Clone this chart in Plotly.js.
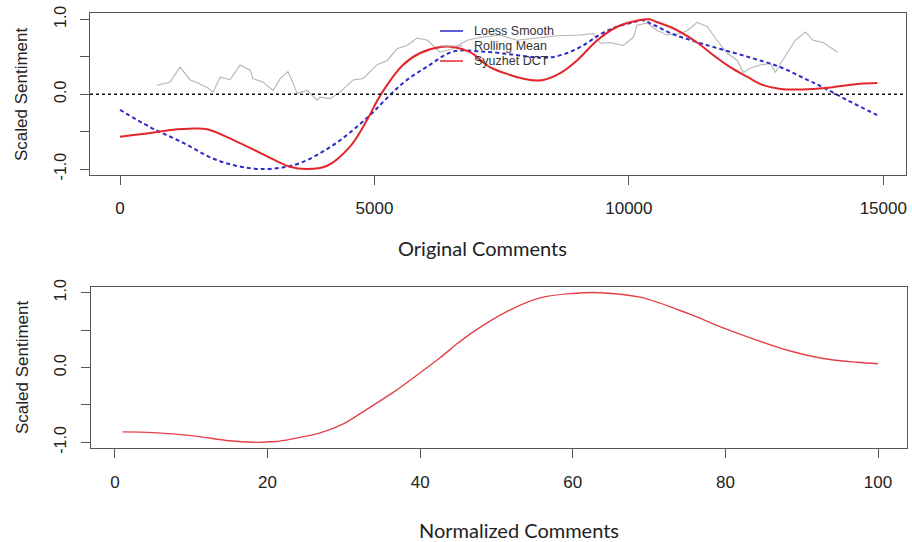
<!DOCTYPE html>
<html>
<head>
<meta charset="utf-8">
<script src="https://cdn.plot.ly/plotly-3.0.1.min.js"></script>
<style>html,body{margin:0;padding:0;background:#fff;}#chart{width:912px;height:542px;}</style>
</head>
<body>
<div id="chart"></div>
<script>
// ---- Top panel: Original Comments ----
const loessX = [0, 590, 1240, 1900, 2560, 3080, 3540, 4190, 4850, 5250, 5600, 6040, 6550, 7100, 7700, 8200, 8450, 8790, 9100, 9440, 9770, 10090, 10250, 10500, 10870, 11270, 11660, 12330, 12980, 13510, 13820, 14290, 14880];
const loessY = [-0.21, -0.44, -0.65, -0.88, -0.99, -0.99, -0.92, -0.68, -0.32, -0.05, 0.17, 0.37, 0.57, 0.57, 0.53, 0.49, 0.49, 0.55, 0.65, 0.80, 0.90, 0.96, 0.99, 0.92, 0.80, 0.71, 0.63, 0.50, 0.36, 0.19, 0.09, -0.08, -0.28];

const meanX = [720, 980, 1180, 1280, 1380, 1530, 1710, 1830, 1970, 2160, 2360, 2560, 2610, 2810, 3010, 3150, 3300, 3400, 3480, 3680, 3870, 3930, 4130, 4330, 4580, 4780, 5050, 5250, 5450, 5640, 5840, 6040, 6290, 6550, 6820, 7100, 7470, 7800, 8200, 8600, 9040, 9300, 9440, 9630, 9890, 10090, 10160, 10360, 10560, 10750, 11010, 11150, 11340, 11540, 11730, 11930, 12130, 12250, 12390, 12580, 12780, 12880, 12980, 13110, 13270, 13470, 13620, 13820, 14020, 14100];
const meanY = [0.12, 0.16, 0.36, 0.28, 0.19, 0.15, 0.09, 0.03, 0.23, 0.19, 0.39, 0.32, 0.21, 0.16, 0.05, 0.21, 0.30, 0.15, 0.01, 0.05, -0.08, -0.04, -0.06, 0.03, 0.19, 0.21, 0.39, 0.45, 0.61, 0.65, 0.75, 0.72, 0.56, 0.61, 0.72, 0.76, 0.79, 0.72, 0.75, 0.78, 0.79, 0.81, 0.68, 0.69, 0.65, 0.76, 0.92, 0.95, 0.85, 0.79, 0.81, 0.85, 0.96, 0.90, 0.72, 0.55, 0.45, 0.29, 0.35, 0.39, 0.41, 0.29, 0.41, 0.55, 0.72, 0.83, 0.72, 0.69, 0.59, 0.56];

const dctX = [0, 590, 1000, 1450, 1710, 2220, 2890, 3340, 3670, 4060, 4520, 4850, 5130, 5560, 5900, 6300, 6550, 6880, 7270, 7650, 8060, 8320, 8650, 8980, 9380, 9770, 10220, 10400, 10560, 10870, 11340, 11660, 11990, 12330, 12640, 12980, 13620, 13960, 14550, 14880];
const dctY = [-0.57, -0.52, -0.48, -0.46, -0.47, -0.61, -0.83, -0.97, -1.0, -0.96, -0.70, -0.35, 0.0, 0.39, 0.55, 0.63, 0.63, 0.56, 0.36, 0.26, 0.19, 0.19, 0.28, 0.45, 0.72, 0.90, 0.99, 1.0, 0.96, 0.88, 0.69, 0.52, 0.36, 0.23, 0.12, 0.07, 0.07, 0.09, 0.14, 0.15];

// ---- Bottom panel: Normalized Comments ----
const normX = [1, 5, 10, 15, 18, 21, 23.4, 27, 30, 33, 36.5, 40, 42.6, 45, 47, 51.4, 55.7, 60, 63.6, 68.8, 75.4, 79.7, 84, 88.5, 92.8, 97.2, 100];
const normY = [-0.86, -0.87, -0.91, -0.98, -1.0, -0.99, -0.95, -0.87, -0.75, -0.56, -0.33, -0.07, 0.13, 0.33, 0.48, 0.75, 0.93, 0.99, 1.0, 0.94, 0.71, 0.53, 0.37, 0.22, 0.12, 0.07, 0.05];

// ---- Ticks / labels ----
const topXTicks = [0, 5000, 10000, 15000];
const botXTicks = [0, 20, 40, 60, 80, 100];
const yTickVals = [-1, -0.5, 0, 0.5, 1];
const yTickText = ['-1.0', '', '0.0', '', '1.0'];
const legendNames = ['Loess Smooth', 'Rolling Mean', 'Syuzhet DCT'];
const legendColors = ['#2b2bc8', '#b0b0b0', '#e3262b'];
const zeroLevel = 0;

const W = 912, H = 542;
const px = v => v / W;
const py = v => 1 - v / H;

const tickFont = {family: 'Liberation Sans, Arial, sans-serif', size: 17, color: '#222'};
const boxColor = '#555';

function xAxis(ticks, range, domain, anchor) {
  return {
    domain: domain, range: range, anchor: anchor,
    tickmode: 'array', tickvals: ticks, ticktext: ticks.map(String),
    ticks: 'outside', ticklen: 9, tickwidth: 1, tickcolor: boxColor,
    ticklabelstandoff: 9,
    showline: true, mirror: true, linecolor: boxColor, linewidth: 1,
    showgrid: false, zeroline: false, tickfont: tickFont
  };
}
function yAxis(domain, anchor) {
  return {
    domain: domain, range: [-1.08, 1.08], anchor: anchor,
    tickmode: 'array', tickvals: yTickVals, ticktext: yTickText,
    tickangle: -90,
    ticks: 'outside', ticklen: 9, tickwidth: 1, tickcolor: boxColor,
    ticklabelstandoff: 8,
    showline: true, mirror: true, linecolor: boxColor, linewidth: 1,
    showgrid: false, zeroline: false, tickfont: {family: tickFont.family, size: 16, color: '#222'}
  };
}

const traces = [
  {x: meanX, y: meanY, xaxis: 'x', yaxis: 'y', type: 'scatter', mode: 'lines', name: legendNames[1],
   line: {color: '#b4b4b4', width: 1.1}},
  {x: loessX, y: loessY, xaxis: 'x', yaxis: 'y', type: 'scatter', mode: 'lines', name: legendNames[0],
   line: {color: legendColors[0], width: 2, dash: '4px,3px', shape: 'spline', smoothing: 1}},
  {x: dctX, y: dctY, xaxis: 'x', yaxis: 'y', type: 'scatter', mode: 'lines', name: legendNames[2],
   line: {color: legendColors[2], width: 2, shape: 'spline', smoothing: 1}},
  {x: normX, y: normY, xaxis: 'x2', yaxis: 'y2', type: 'scatter', mode: 'lines', name: 'Normalized',
   line: {color: '#e5404a', width: 1.4, shape: 'spline', smoothing: 1}}
];

const legendRowsY = [31, 46, 61];
const shapes = [
  {type: 'line', xref: 'x domain', yref: 'y', x0: 0, x1: 1, y0: zeroLevel, y1: zeroLevel,
   line: {color: '#111', width: 1.5, dash: 'dot'}}
];
const annotations = [];
legendNames.forEach((n, i) => {
  shapes.push({type: 'line', xref: 'paper', yref: 'paper', x0: px(440), x1: px(463), y0: py(legendRowsY[i]), y1: py(legendRowsY[i]),
    line: {color: legendColors[i], width: i === 1 ? 1 : 1.5}});
  annotations.push({xref: 'paper', yref: 'paper', x: px(473), y: py(legendRowsY[i]), xanchor: 'left', yanchor: 'middle',
    text: n, showarrow: false, borderpad: 0,
    font: {family: 'Liberation Sans, Arial, sans-serif', size: 12.5, color: '#333'}});
});
const titleFont = {family: 'Lato, "Open Sans", sans-serif', size: 20, color: '#222'};
annotations.push({xref: 'paper', yref: 'paper', x: px(482), y: py(248), xanchor: 'center', yanchor: 'middle',
  text: 'Original Comments', showarrow: false, font: titleFont});
annotations.push({xref: 'paper', yref: 'paper', x: px(519), y: py(530), xanchor: 'center', yanchor: 'middle',
  text: 'Normalized Comments', showarrow: false, font: titleFont});
[94, 367].forEach(yc => {
  annotations.push({xref: 'paper', yref: 'paper', x: px(22), y: py(yc), xanchor: 'center', yanchor: 'middle',
    text: 'Scaled Sentiment', textangle: -90, showarrow: false,
    font: {family: 'Liberation Sans, Arial, sans-serif', size: 17, color: '#222'}});
});

const layout = {
  width: W, height: H,
  margin: {l: 0, r: 0, t: 0, b: 0},
  paper_bgcolor: '#fff', plot_bgcolor: '#fff',
  showlegend: false,
  xaxis: xAxis(topXTicks, [-590, 15440], [px(90), px(905.7)], 'y'),
  yaxis: yAxis([py(175), py(13.3)], 'x'),
  xaxis2: xAxis(botXTicks, [-3.18, 103.76], [px(90.7), px(906.7)], 'y2'),
  yaxis2: yAxis([py(448.3), py(286.7)], 'x2'),
  shapes: shapes,
  annotations: annotations
};

Plotly.newPlot('chart', traces, layout, {staticPlot: true, displayModeBar: false});
</script>
</body>
</html>
